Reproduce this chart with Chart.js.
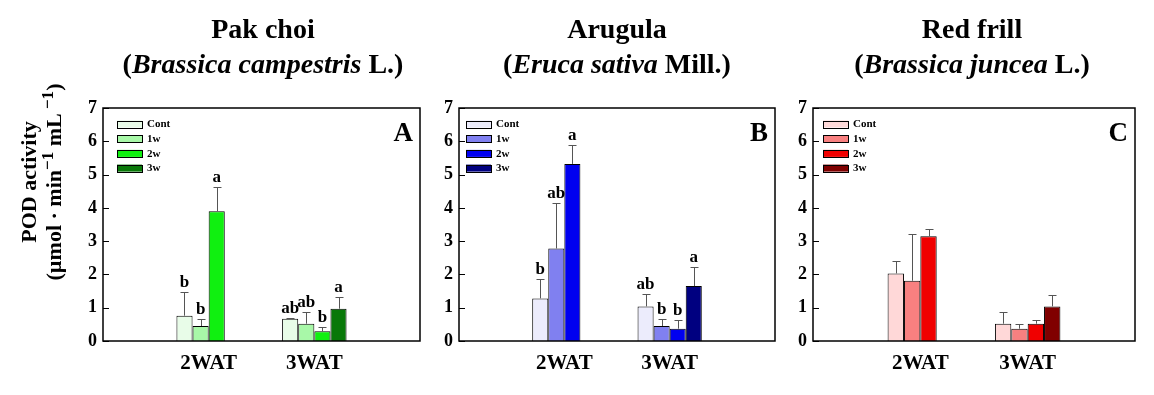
<!DOCTYPE html>
<html><head><meta charset="utf-8">
<script src="https://cdn.jsdelivr.net/npm/chart.js@4.4.1/dist/chart.umd.min.js"></script>
<style>
html,body{margin:0;padding:0;background:#fff;}
#wrap{position:relative;width:1154px;height:395px;overflow:hidden;font-family:"Liberation Serif","Times New Roman",serif;font-weight:bold;color:#000;}
.ttl{position:absolute;top:11px;width:400px;text-align:center;font-size:28px;line-height:35px;white-space:nowrap;z-index:2;}
.cv{position:absolute;top:0;}
.ytl{position:absolute;width:260px;height:50px;left:-89.5px;top:157px;transform:rotate(-90deg);text-align:center;font-size:22px;line-height:25px;white-space:nowrap;z-index:2;}
.ytl sup{font-size:17px;line-height:0;}
</style></head>
<body><div id="wrap">
<div class="ttl" style="left:63px">Pak choi<br>(<i>Brassica campestris</i> L.)</div>
<div class="ttl" style="left:417px">Arugula<br>(<i>Eruca sativa</i> Mill.)</div>
<div class="ttl" style="left:772px">Red frill<br>(<i>Brassica juncea</i> L.)</div>
<div class="ytl">POD activity<br>(µmol · min<sup>−1</sup> mL<sup> −1</sup>)</div>
<canvas id="cA" class="cv" width="430" height="395" style="left:0px"></canvas>
<canvas id="cB" class="cv" width="365" height="395" style="left:420px"></canvas>
<canvas id="cC" class="cv" width="379" height="395" style="left:775px"></canvas>
</div>
<script>
const FONT = '"Liberation Serif","Times New Roman",serif';
const categories = ['2WAT', '3WAT'];
const treatments = ['Cont', '1w', '2w', '3w'];
const yTicks = [0, 1, 2, 3, 4, 5, 6, 7];

// rows: Cont, 1w, 2w, 3w ; columns: 2WAT, 3WAT
const pakChoiMeans = [[0.76, 0.67], [0.45, 0.52], [3.90, 0.29], [null, 0.97]];
const pakChoiSD = [[0.72, 0.02], [0.21, 0.35], [0.72, 0.14], [null, 0.34]];
const pakChoiLetters = [['b', 'ab'], ['b', 'ab'], ['a', 'b'], [null, 'a']];
const pakChoiColors = ['#e8fce8', '#a8f8a8', '#10f010', '#087808'];

const arugulaMeans = [[1.28, 1.04], [2.78, 0.45], [5.32, 0.37], [null, 1.65]];
const arugulaSD = [[0.57, 0.36], [1.38, 0.21], [0.57, 0.27], [null, 0.58]];
const arugulaLetters = [['b', 'ab'], ['ab', 'b'], ['a', 'b'], [null, 'a']];
const arugulaColors = ['#ececfc', '#8080f0', '#0000f0', '#000080'];

const redFrillMeans = [[2.03, 0.52], [1.81, 0.37], [3.15, 0.52], [null, 1.04]];
const redFrillSD = [[0.38, 0.36], [1.39, 0.15], [0.20, 0.12], [null, 0.35]];
const redFrillLetters = [[null, null], [null, null], [null, null], [null, null]];
const redFrillColors = ['#ffd8d8', '#f88080', '#f00000', '#800000'];

const deco = {
  id: 'deco',
  afterDatasetsDraw(chart, args, o) {
    const ctx = chart.ctx, ca = chart.chartArea, y = chart.scales.y;
    ctx.save();
    // error bars + letters
    chart.data.datasets.forEach((ds, i) => {
      const meta = chart.getDatasetMeta(i);
      meta.data.forEach((el, j) => {
        const m = ds.data[j];
        if (m === null || m === undefined) return;
        const sd = ds.sd[j];
        let top = el.y;
        if (sd !== null && sd !== undefined) {
          top = y.getPixelForValue(m + sd);
          ctx.strokeStyle = '#555';
          ctx.lineWidth = 1;
          ctx.beginPath();
          ctx.moveTo(Math.round(el.x) + 0.5, el.y);
          ctx.lineTo(Math.round(el.x) + 0.5, Math.round(top) + 0.5);
          ctx.moveTo(Math.round(el.x) - 3.5, Math.round(top) + 0.5);
          ctx.lineTo(Math.round(el.x) + 4.5, Math.round(top) + 0.5);
          ctx.stroke();
        }
        const lt = ds.letters[j];
        if (lt) {
          ctx.fillStyle = '#000';
          ctx.font = 'bold 17px ' + FONT;
          ctx.textAlign = 'center';
          ctx.textBaseline = 'alphabetic';
          ctx.fillText(lt, el.x, top - 5);
        }
      });
    });
    // frame
    ctx.strokeStyle = '#000';
    ctx.lineWidth = 1.5;
    ctx.strokeRect(ca.left, ca.top, ca.right - ca.left, ca.bottom - ca.top);
    // inward ticks
    ctx.lineWidth = 1;
    y.ticks.forEach(t => {
      const py = Math.round(y.getPixelForValue(t.value)) + 0.5;
      ctx.beginPath();
      ctx.moveTo(ca.left, py);
      ctx.lineTo(ca.left + 6, py);
      ctx.stroke();
    });
    // legend
    ctx.font = 'bold 11px ' + FONT;
    ctx.textAlign = 'left';
    ctx.textBaseline = 'middle';
    chart.data.datasets.forEach((ds, i) => {
      const cy = ca.top + 16 + i * 14.7;
      const bx = ca.left + o.legendLeft;
      ctx.fillStyle = ds.backgroundColor;
      ctx.fillRect(bx, cy - 3.5, 25, 7);
      ctx.strokeStyle = '#000';
      ctx.lineWidth = 1;
      ctx.strokeRect(bx + 0.5, Math.round(cy - 3.5) + 0.5, 25, 7);
      ctx.fillStyle = '#000';
      ctx.fillText(ds.label, bx + 30, cy + 0.5);
    });
    // panel letter
    ctx.font = 'bold 27px ' + FONT;
    ctx.textAlign = 'right';
    ctx.textBaseline = 'alphabetic';
    ctx.fillText(o.panel, ca.right - 7, ca.top + 33);
    ctx.restore();
  }
};

function buildPanel(id, means, sds, letters, colors, panel, yW, padRight, legendLeft) {
  const labels = [''].concat(categories, ['']);
  const datasets = treatments.map((t, i) => ({
    label: t,
    data: [null].concat(means[i], [null]),
    sd: [null].concat(sds[i], [null]),
    letters: [null].concat(letters[i], [null]),
    backgroundColor: colors[i],
    borderColor: '#000',
    borderWidth: 1,
    borderSkipped: 'bottom',
    categoryPercentage: 0.61,
    barPercentage: 1.0
  }));
  return new Chart(document.getElementById(id), {
    type: 'bar',
    data: { labels, datasets },
    options: {
      responsive: false,
      animation: false,
      devicePixelRatio: 1,
      layout: { padding: { top: 108, right: padRight, left: 0, bottom: 0 } },
      plugins: {
        legend: { display: false },
        tooltip: { enabled: false },
        deco: { panel, legendLeft }
      },
      scales: {
        x: {
          offset: false,
          grid: { display: false, drawTicks: false },
          border: { display: false },
          ticks: { font: { family: FONT, size: 21, weight: 'bold' }, color: '#000', padding: 10, maxRotation: 0, autoSkip: false },
          afterFit: s => { s.height = 54; }
        },
        y: {
          min: 0, max: 7,
          afterBuildTicks: s => { s.ticks = yTicks.map(v => ({ value: v })); },
          grid: { display: false, drawTicks: false },
          border: { display: false },
          ticks: { font: { family: FONT, size: 18, weight: 'bold' }, color: '#000', padding: 6 },
          afterFit: s => { s.width = yW; }
        }
      }
    },
    plugins: [deco]
  });
}

buildPanel('cA', pakChoiMeans, pakChoiSD, pakChoiLetters, pakChoiColors, 'A', 103, 6, 14);
buildPanel('cB', arugulaMeans, arugulaSD, arugulaLetters, arugulaColors, 'B', 39, 7, 7);
buildPanel('cC', redFrillMeans, redFrillSD, redFrillLetters, redFrillColors, 'C', 38, 19, 10);
</script>
</body></html>
